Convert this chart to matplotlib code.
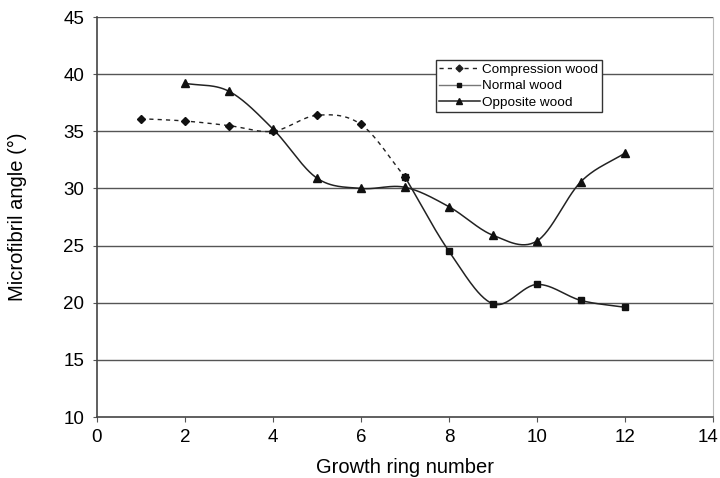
import numpy as np
import matplotlib.pyplot as plt
from matplotlib.transforms import ScaledTranslation

plt.rcParams['font.family'] = ['Liberation Sans', 'DejaVu Sans']

comp_x = [1, 2, 3, 4, 5, 6, 7]
comp_y = [36.1, 35.9, 35.5, 35.0, 36.4, 35.6, 31.0]
normal_x = [7, 8, 9, 10, 11, 12]
normal_y = [31.0, 24.5, 19.9, 21.6, 20.2, 19.6]
opp_x = [2, 3, 4, 5, 6, 7, 8, 9, 10, 11, 12]
opp_y = [39.2, 38.5, 35.2, 30.9, 30.0, 30.1, 28.4, 25.9, 25.4, 30.6, 33.1]


def smooth(x, y, n=30):
    # Catmull-Rom curve through the points, like a spreadsheet "smoothed line"
    p = np.column_stack([x, y]).astype(float)
    p = np.vstack([p[0] * 2 - p[1], p, p[-1] * 2 - p[-2]])
    out = []
    t = np.linspace(0, 1, n)[:, None]
    for i in range(1, len(p) - 2):
        p0, p1, p2, p3 = p[i - 1], p[i], p[i + 1], p[i + 2]
        seg = 0.5 * ((2 * p1) + (-p0 + p2) * t + (2 * p0 - 5 * p1 + 4 * p2 - p3) * t ** 2
                     + (-p0 + 3 * p1 - 3 * p2 + p3) * t ** 3)
        out.append(seg if i == 1 else seg[1:])
    out = np.vstack(out)
    return out[:, 0], out[:, 1]


fig = plt.figure(figsize=(7.2, 4.78), dpi=100)
ax = fig.add_axes([0.1347, 0.1276, 0.8556, 0.8368])

for yv in [15, 20, 25, 30, 35, 40, 45]:
    ax.axhline(yv, color='#555555', lw=1.0, zorder=1)

sx, sy = smooth(comp_x, comp_y)
ax.plot(sx, sy, color='#222222', lw=1.0, ls=(0, (3, 3)), zorder=2)
ax.plot(comp_x, comp_y, ls='none', marker='D', ms=4.5, color='#111111', zorder=3)
sx, sy = smooth(normal_x, normal_y)
ax.plot(sx, sy, color='#222222', lw=1.1, zorder=2)
ax.plot(normal_x, normal_y, ls='none', marker='s', ms=5, color='#111111', zorder=3)
sx, sy = smooth(opp_x, opp_y)
ax.plot(sx, sy, color='#222222', lw=1.1, zorder=2)
ax.plot(opp_x, opp_y, ls='none', marker='^', ms=6, color='#111111', zorder=3)

h1, = ax.plot([], [], color='#222222', lw=1.0, ls=(0, (3, 3)), marker='D', ms=3.5)
h2, = ax.plot([], [], color='#777777', lw=1.0, marker='s', ms=3.5, mfc='#111111', mec='#111111')
h3, = ax.plot([], [], color='#222222', lw=1.1, marker='^', ms=4, mfc='#111111', mec='#111111')
leg = ax.legend([h1, h2, h3], ['Compression wood', 'Normal wood', 'Opposite wood'],
                loc='upper left', bbox_to_anchor=(0.550, 0.8925), borderaxespad=0,
                fontsize=9.7, frameon=True, fancybox=False, edgecolor='#333333',
                framealpha=1, handlelength=3.0, handletextpad=0.2, borderpad=0.25,
                labelspacing=0.3)
leg.get_frame().set_linewidth(1.0)
leg.set_zorder(5)

ax.set_xlim(0, 14)
ax.set_ylim(10, 45)
ax.set_xticks(range(0, 15, 2))
ax.set_yticks(range(10, 46, 5))
ax.tick_params(axis='y', length=3, direction='out', color='#555555', pad=6, labelsize=13.5)
ax.tick_params(axis='x', length=3.5, direction='out', color='#555555', pad=5, labelsize=13.5)
for s in ['left', 'bottom']:
    ax.spines[s].set_color('#444444')
    ax.spines[s].set_linewidth(1.2)
ax.spines['right'].set_color('#bbbbbb')
ax.spines['top'].set_visible(False)

# the last x label sits a little left so it stays inside the picture
last = ax.get_xticklabels()[-1]
last.set_transform(last.get_transform() + ScaledTranslation(-5 / 100, 0, fig.dpi_scale_trans))

ax.set_xlabel('Growth ring number', fontsize=14.5, labelpad=9)
ax.set_ylabel('Microfibril angle (°)', fontsize=14.5)
ax.yaxis.set_label_coords(-0.113, 0.5)

plt.savefig('out.png', dpi=100)
